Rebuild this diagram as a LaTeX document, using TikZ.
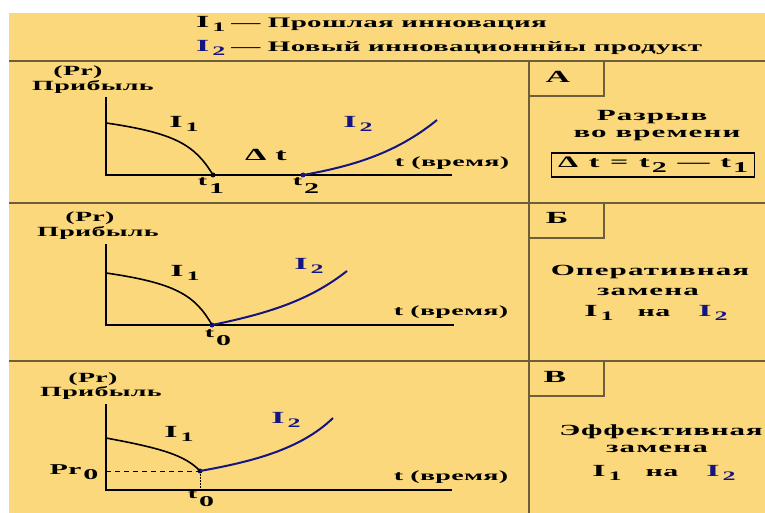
\documentclass[tikz,border=0pt]{standalone}
\usepackage{fontspec}
\setmainfont{Liberation Serif}[FakeStretch=2.0, LetterSpace=2]
\definecolor{bgy}{RGB}{252,216,124}
\definecolor{framec}{RGB}{110,95,60}
\definecolor{navy}{RGB}{20,20,130}
\newcommand{\Ilab}[1]{I\kern3pt\raisebox{-4pt}{\fontsize{13}{13}\selectfont #1}}
\newcommand{\tlab}[1]{t\kern2pt\raisebox{-8pt}{\fontsize{15}{15}\selectfont #1}}
\newcommand{\tsub}[1]{t\kern2pt\raisebox{-5pt}{\fontsize{15}{15}\selectfont #1}}
\begin{document}
\begin{tikzpicture}[x=1pt,y=-1pt,
  txt/.style={font=\bfseries\fontsize{14}{16}\selectfont, inner sep=0pt},
  rtxt/.style={font=\bfseries\fontsize{15.5}{17}\selectfont\addfontfeature{LetterSpace=7}, inner sep=0pt},
  big/.style={font=\bfseries\fontsize{17}{17}\selectfont, inner sep=0pt},
  ilab/.style={font=\bfseries\fontsize{17}{17}\selectfont, inner sep=0pt},
  frame/.style={draw=framec, line width=1.2pt},
  axis/.style={draw=black, line width=1.8pt},
  curveA/.style={draw=black, line width=1.6pt},
  curveB/.style={draw=navy, line width=2pt},
  dot/.style={circle, fill=#1, inner sep=0pt, minimum size=5pt},
  dot/.default=black]
\useasboundingbox (0,0) rectangle (765,513);
\fill[white] (0,0) rectangle (765,513);
\fill[bgy] (9,13) rectangle (765,513);
% frame
\draw[frame] (9,61) -- (765,61);
\draw[frame] (9,203) -- (765,203);
\draw[frame] (9,361) -- (765,361);
\draw[frame] (529,61) -- (529,513);
\draw[frame] (529,96) -- (604,96) -- (604,61);
\draw[frame] (529,238) -- (604,238) -- (604,203);
\draw[frame] (529,396) -- (604,396) -- (604,361);
% header
\node[ilab, anchor=west] (h1) at (196,24) {\Ilab{1}\kern6pt{\fontsize{14.5}{16}\selectfont --- Прошлая инновация}};
\node[ilab, anchor=west] (h2) at (196,48) {\textcolor{navy}{\Ilab{2}}\kern6pt{\fontsize{14.5}{16}\selectfont --- Новый инновационнйы продукт}};
% ---------- panel 1
\node[txt] (pr1) at (78,72) {(Pr)};
\node[txt] (pb1) at (93,87) {Прибыль};
\coordinate (o1) at (106,175);
\coordinate (ytop1) at (106,97);
\coordinate (xend1) at (452,175);
\draw[axis] (ytop1) -- (o1) -- (xend1);
\coordinate (a1s) at (106,123);
\node[dot] (t1d) at (213,175) {};
\node[dot=navy] (t2d) at (303,175) {};
\coordinate (b1e) at (437,120);
\draw[curveA] (a1s) .. controls (175,133) and (195,145) .. (t1d.center);
\draw[curveB] (t2d.center) .. controls (360,165) and (400,150) .. (b1e);
\node[ilab] (i1a) at (184,124) {\Ilab{1}};
\node[ilab, text=navy] (i2a) at (358,124) {\Ilab{2}};
\node[big] (dt) at (266,155) {Δ\kern9pt t};
\node[txt] (tt1) at (452,163) {t (время)};
\node[txt] (lt1) at (211,186) {\tlab{1}};
\node[txt] (lt2) at (306,186) {\tlab{2}};
% ---------- panel 2
\node[txt] (pr2) at (90,218) {(Pr)};
\node[txt] (pb2) at (98,233) {Прибыль};
\coordinate (o2) at (106,325);
\coordinate (ytop2) at (106,244);
\coordinate (xend2) at (454,325);
\draw[axis] (ytop2) -- (o2) -- (xend2);
\coordinate (a2s) at (106,273);
\node[dot=navy] (t0d) at (212,325) {};
\coordinate (b2e) at (347,271);
\draw[curveA] (a2s) .. controls (175,283) and (195,295) .. (t0d.center);
\draw[curveB] (t0d.center) .. controls (270,313) and (310,300) .. (b2e);
\node[ilab] (i1b) at (185,273) {\Ilab{1}};
\node[ilab, text=navy] (i2b) at (309,266) {\Ilab{2}};
\node[txt] (tt2) at (451,312) {t (время)};
\node[txt] (lt0) at (218,338) {\tlab{0}};
% ---------- panel 3
\node[txt] (pr3) at (93,379) {(Pr)};
\node[txt] (pb3) at (101,393) {Прибыль};
\coordinate (o3) at (106,490);
\coordinate (ytop3) at (106,404);
\coordinate (xend3) at (452,490);
\draw[axis] (ytop3) -- (o3) -- (xend3);
\coordinate (a3s) at (106,438);
\node[dot=navy] (t0e) at (200,471) {};
\coordinate (b3e) at (333,418);
\coordinate (pry) at (106,471);
\coordinate (t0x) at (200,490);
\draw[black, line width=0.8pt, dash pattern=on 5pt off 4pt] (pry) -- (t0e.center);
\draw[black, line width=0.8pt, dash pattern=on 1.5pt off 1.5pt] (t0e.center) -- (t0x);
\draw[curveA] (a3s) .. controls (160,448) and (185,455) .. (t0e.center);
\draw[curveB] (t0e.center) .. controls (250,462) and (300,450) .. (b3e);
\node[ilab] (i1c) at (179,434) {\Ilab{1}};
\node[ilab, text=navy] (i2c) at (286,420) {\Ilab{2}};
\node[txt] (pr0) at (74,472) {\fontsize{15}{15}\selectfont Pr\kern2pt\raisebox{-5pt}{0}};
\node[txt] (tt3) at (451,477) {t (время)};
\node[txt] (lt0b) at (201,499) {\tlab{0}};
% ---------- right column
\node[big] (la) at (558,77) {А};
\node[rtxt] (ra1) at (652,117) {Разрыв};
\node[rtxt] (ra2) at (657,135) {во времени};
\node[txt, draw=black, line width=1.6pt, minimum width=203pt, minimum height=24pt] (dtbox) at (653,165) {\makebox[190pt]{\fontsize{16}{16}\selectfont Δ\hfill t\hfill =\hfill \tsub{2}\hfill ---\hfill \tsub{1}}};
\node[big] (lb) at (557,218) {Б};
\node[rtxt] (rb1) at (650,272) {Оперативная};
\node[rtxt] (rb2) at (648,292) {замена};
\node[ilab] (rb3) at (656,313) {\Ilab{1}\hspace{24pt}{\fontsize{15}{16}\selectfont на}\hspace{28pt}\textcolor{navy}{\Ilab{2}}};
\node[big] (lc) at (555,377) {В};
\node[rtxt, font=\bfseries\fontsize{15.5}{17}\selectfont\addfontfeature{LetterSpace=5}] (rc1) at (661,432) {Эффективная};
\node[rtxt] (rc2) at (657,449) {замена};
\node[ilab] (rc3) at (664,473) {\Ilab{1}\hspace{24pt}{\fontsize{15}{16}\selectfont на}\hspace{28pt}\textcolor{navy}{\Ilab{2}}};
\end{tikzpicture}
\end{document}
